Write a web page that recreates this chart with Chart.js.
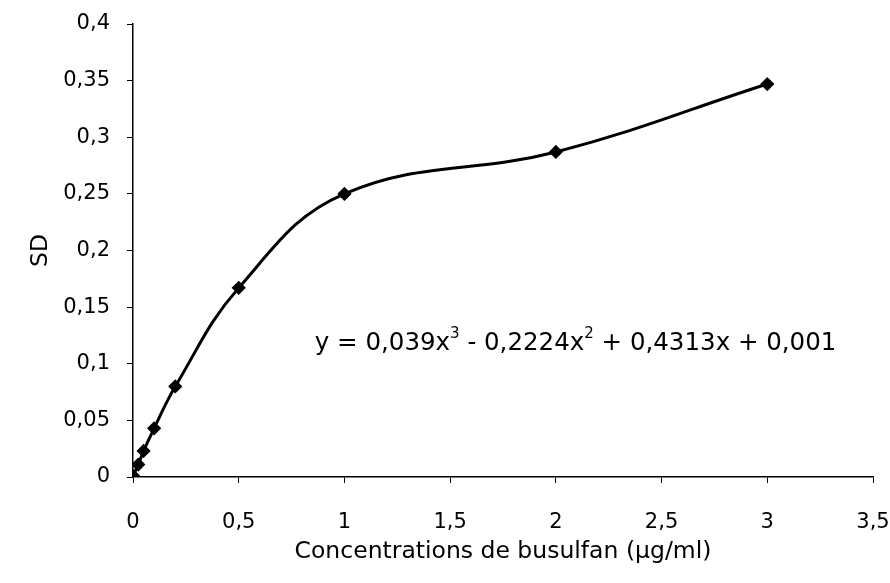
<!DOCTYPE html>
<html>
<head>
<meta charset="utf-8">
<script src="https://cdn.jsdelivr.net/npm/chart.js@4.4.0/dist/chart.umd.min.js"></script>
<style>
  html, body { margin: 0; padding: 0; background: #fff; }
  #wrap { width: 890px; height: 583px; }
</style>
</head>
<body>
<div id="wrap"><canvas id="chart"></canvas></div>
<script>
// Busulfan calibration data
const concentrations = [0, 0.025, 0.05, 0.1, 0.2, 0.5, 1, 2, 3];
const sdValues = [0.001, 0.011, 0.023, 0.043, 0.08, 0.167, 0.25, 0.287, 0.347];
const xTicks = [0, 0.5, 1, 1.5, 2, 2.5, 3, 3.5];
const yTicks = [0, 0.05, 0.1, 0.15, 0.2, 0.25, 0.3, 0.35, 0.4];
const equation = ['y = 0,039x', '3', ' - 0,2224x', '2', ' + 0,4313x + 0,001'];

const FONT = '"DejaVu Sans", "Liberation Sans", sans-serif';

function frenchNumber(v) {
    return String(Math.round(v * 100) / 100).replace('.', ',');
}

// Draws the trendline equation with superscripts
const equationPlugin = {
    id: 'equation',
    afterDraw(chart) {
        const ctx = chart.ctx;
        const x0 = chart.scales.x.getPixelForValue(0.86);
        const y0 = chart.scales.y.getPixelForValue(0.1) - 14;
        ctx.save();
        ctx.fillStyle = '#000';
        ctx.textBaseline = 'alphabetic';
        let x = x0;
        equation.forEach((part, i) => {
            const sup = i % 2 === 1;
            ctx.font = (sup ? '15px ' : '24.5px ') + FONT;
            ctx.fillText(part, x, sup ? y0 - 12 : y0);
            x += ctx.measureText(part).width;
        });
        ctx.restore();
    }
};

new Chart(document.getElementById('chart'), {
    type: 'scatter',
    data: {
        datasets: [{
            data: concentrations.map((c, i) => ({ x: c, y: sdValues[i] })),
            showLine: true,
            tension: 0.4,
            borderColor: '#000',
            borderWidth: 3,
            pointStyle: 'rectRot',
            pointRadius: 5,
            pointBackgroundColor: '#000',
            pointBorderColor: '#000'
        }]
    },
    options: {
        responsive: true,
        maintainAspectRatio: false,
        animation: false,
        layout: { padding: { left: 27, right: 0, top: 24, bottom: 17 } },
        plugins: { legend: { display: false }, tooltip: { enabled: false } },
        scales: {
            x: {
                type: 'linear',
                min: 0,
                max: 3.5,
                afterBuildTicks: axis => { axis.ticks = xTicks.map(v => ({ value: v })); },
                // fixed box so the labels and title sit where the original has them
                afterFit: axis => { axis.paddingRight = 17; axis.height = 89; },
                ticks: { callback: frenchNumber, color: '#000', font: { family: FONT, size: 21 }, padding: 27, maxRotation: 0 },
                grid: { drawOnChartArea: false, drawTicks: true, tickLength: 6, color: '#000', lineWidth: 1 },
                border: { color: '#000', width: 1.5 },
                title: { display: true, text: 'Concentrations de busulfan (µg/ml)', color: '#000', font: { family: FONT, size: 23.5 }, padding: 0 }
            },
            y: {
                min: 0,
                max: 0.4,
                afterBuildTicks: axis => { axis.ticks = yTicks.map(v => ({ value: v })); },
                afterFit: axis => { axis.paddingTop = 0; axis.width = 106; },
                ticks: { callback: frenchNumber, color: '#000', font: { family: FONT, size: 21 }, padding: 17 },
                grid: { drawOnChartArea: false, drawTicks: true, tickLength: 6, color: '#000', lineWidth: 1 },
                border: { color: '#000', width: 1.5 },
                title: { display: true, text: 'SD', color: '#000', font: { family: FONT, size: 23.5 }, padding: 0 }
            }
        }
    },
    plugins: [equationPlugin]
});
</script>
</body>
</html>
